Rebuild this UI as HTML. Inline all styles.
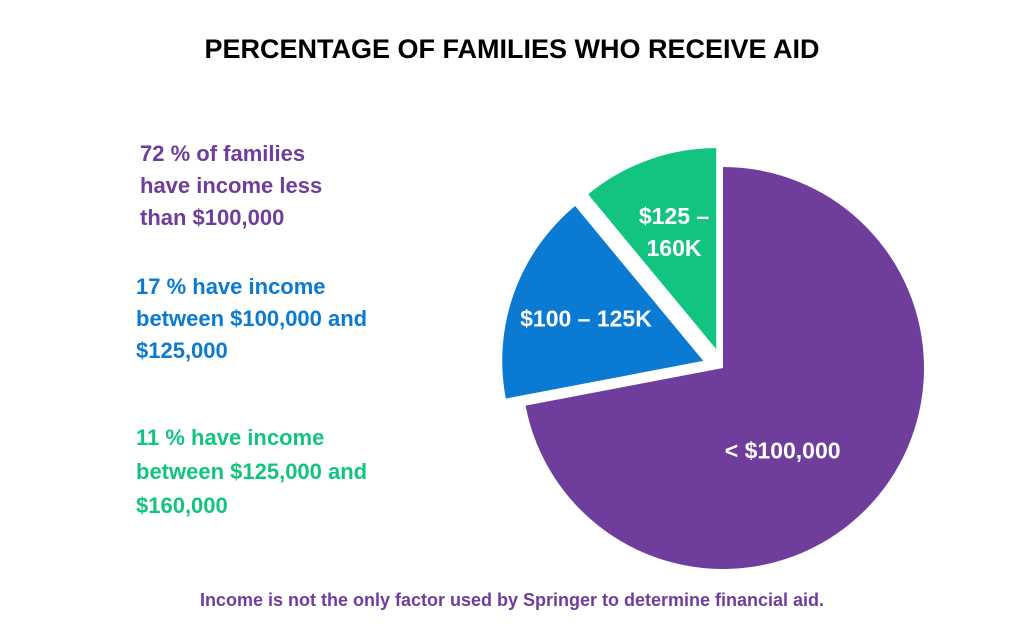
<!DOCTYPE html>
<html><head><meta charset="utf-8"><style>
body{margin:0;width:1024px;height:639px;background:#fff;font-family:"Liberation Sans",sans-serif;overflow:hidden;position:relative}
.t{position:absolute;font-weight:bold}
</style></head><body>
<div class="t" style="left:0;width:1024px;text-align:center;top:34px;font-size:27px;color:#000">PERCENTAGE OF FAMILIES WHO RECEIVE AID</div>
<div class="t" style="left:140px;top:138px;font-size:22px;line-height:32px;color:#6f3d9b">72 % of families<br>have income less<br>than $100,000</div>
<div class="t" style="left:136px;top:271px;font-size:22px;line-height:32px;color:#0a7ad3">17 % have income<br>between $100,000 and<br>$125,000</div>
<div class="t" style="left:136px;top:421px;font-size:22px;line-height:34px;color:#12c47f">11 % have income<br>between $125,000 and<br>$160,000</div>
<div class="t" style="left:0;width:1024px;text-align:center;top:590px;font-size:18px;color:#6f3d9b">Income is not the only factor used by Springer to determine financial aid.</div>
<svg id="pie" width="1024" height="639" style="position:absolute;left:0;top:0"></svg>
<script>
const categories=["< $100,000","$100 – 125K","$125 – 160K"];
const values=[72,17,11];
const colors=["#6f3d9b","#0a7ad3","#12c47f"];
const explode=[0,21,20];
const svg=document.getElementById('pie');
const NS="http://www.w3.org/2000/svg";
const cx=723,cy=368,r=201;
const total=values.reduce((a,b)=>a+b,0);
function pt(a,rr,ox,oy){return [cx+ox+rr*Math.sin(a),cy+oy-rr*Math.cos(a)];}
let start=0;
values.forEach((v,i)=>{
  const sweep=v/total*2*Math.PI,end=start+sweep,mid=start+sweep/2;
  const ox=explode[i]*Math.sin(mid),oy=-explode[i]*Math.cos(mid);
  const p0=pt(start,r,ox,oy),p1=pt(end,r,ox,oy);
  const path=document.createElementNS(NS,'path');
  path.setAttribute('d',`M${cx+ox},${cy+oy} L${p0[0]},${p0[1]} A${r},${r} 0 ${sweep>Math.PI?1:0} 1 ${p1[0]},${p1[1]} Z`);
  path.setAttribute('fill',colors[i]);
  
  
  svg.appendChild(path);
  const lr=i==0?r*0.45:r*0.62;
  const lp=pt(mid,lr,ox,oy);
  const lines=i==2?["$125 –","160K"]:[categories[i]];
  lines.forEach((ln,j)=>{
    const t=document.createElementNS(NS,'text');
    t.setAttribute('x',i==0?lp[0]-10:lp[0]);
    t.setAttribute('y',(i==0?lp[1]+25:lp[1])+8+(j-(lines.length-1)/2)*32);
    t.setAttribute('text-anchor','middle');
    t.setAttribute('fill','#fff');
    t.setAttribute('font-weight','bold');
    t.setAttribute('font-size','23');
    t.setAttribute('font-family','Liberation Sans, sans-serif');
    
    
    t.textContent=ln;
    svg.appendChild(t);
  });
  start=end;
});
</script>
</body></html>
